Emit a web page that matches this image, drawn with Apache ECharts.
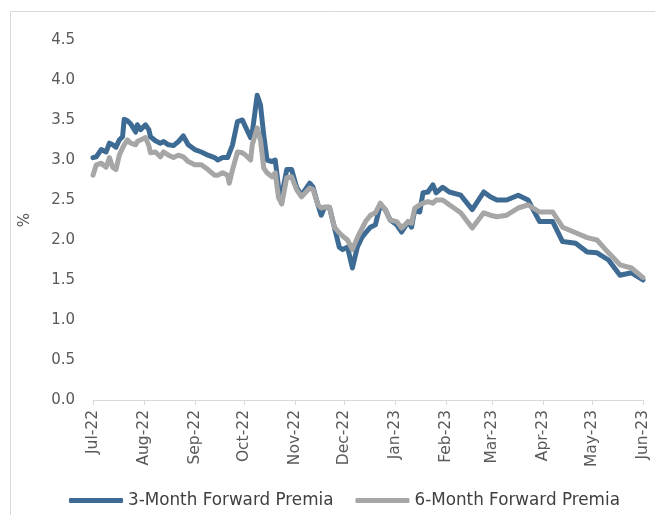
<!DOCTYPE html>
<html>
<head>
<meta charset="utf-8">
<script src="https://cdn.jsdelivr.net/npm/echarts@6/dist/echarts.min.js"></script>
<style>
html,body{margin:0;padding:0;background:#fff;}
#chart{width:655px;height:515px;}
</style>
</head>
<body>
<div id="chart"></div>
<script>
// Dates of observations
const obsDates = [
'2022-07-01','2022-07-03','2022-07-06','2022-07-09','2022-07-11','2022-07-13','2022-07-15','2022-07-17','2022-07-19','2022-07-20',
'2022-07-22','2022-07-24','2022-07-27','2022-07-28','2022-07-30','2022-08-02','2022-08-04','2022-08-05','2022-08-08','2022-08-11',
'2022-08-13','2022-08-16','2022-08-19','2022-08-22','2022-08-25','2022-08-28','2022-09-01','2022-09-05','2022-09-09','2022-09-13',
'2022-09-15','2022-09-18','2022-09-21','2022-09-22','2022-09-24','2022-09-27','2022-09-30','2022-10-02','2022-10-05','2022-10-06',
'2022-10-09','2022-10-11','2022-10-13','2022-10-15','2022-10-18','2022-10-20','2022-10-22','2022-10-24','2022-10-27','2022-10-30',
'2022-11-02','2022-11-05','2022-11-10','2022-11-12','2022-11-15','2022-11-17','2022-11-19','2022-11-22','2022-11-25','2022-11-28',
'2022-11-30','2022-12-03','2022-12-06','2022-12-09','2022-12-12','2022-12-14','2022-12-17','2022-12-20','2022-12-23','2022-12-26',
'2022-12-29','2023-01-02','2023-01-05','2023-01-09','2023-01-11','2023-01-13','2023-01-16','2023-01-18','2023-01-21','2023-01-24',
'2023-01-26','2023-01-30','2023-01-31','2023-02-03','2023-02-10','2023-02-17','2023-02-24','2023-02-28','2023-03-04','2023-03-10',
'2023-03-17','2023-03-23','2023-03-30','2023-04-07','2023-04-13','2023-04-21','2023-04-28','2023-05-04','2023-05-11','2023-05-18',
'2023-05-25','2023-06-01'
];
const premia3M = [
3.03,3.04,3.13,3.10,3.21,3.19,3.16,3.25,3.29,3.51,
3.49,3.45,3.35,3.44,3.38,3.44,3.38,3.29,3.24,3.21,
3.23,3.19,3.18,3.23,3.30,3.19,3.13,3.10,3.06,3.03,
3.00,3.03,3.03,3.05,3.19,3.48,3.50,3.41,3.28,3.34,
3.81,3.69,3.31,3.00,2.98,3.00,2.66,2.56,2.88,2.88,
2.66,2.56,2.71,2.66,2.44,2.31,2.41,2.41,2.16,1.91,
1.88,1.91,1.65,1.91,2.04,2.09,2.16,2.19,2.44,2.38,
2.25,2.19,2.10,2.23,2.16,2.38,2.35,2.59,2.60,2.69,
2.59,2.66,2.65,2.60,2.56,2.38,2.60,2.54,2.50,2.50,
2.56,2.50,2.23,2.23,1.98,1.96,1.85,1.84,1.75,1.56,
1.59,1.50
];
const premia6M = [
2.81,2.94,2.96,2.91,3.03,2.91,2.88,3.06,3.15,3.19,
3.25,3.21,3.19,3.23,3.25,3.28,3.18,3.09,3.10,3.04,
3.10,3.06,3.03,3.06,3.04,2.98,2.94,2.94,2.88,2.81,
2.81,2.84,2.81,2.71,2.88,3.10,3.09,3.06,3.00,3.19,
3.40,3.25,2.90,2.84,2.79,2.84,2.53,2.45,2.78,2.79,
2.63,2.54,2.65,2.63,2.44,2.40,2.41,2.41,2.16,2.09,
2.05,2.00,1.88,2.03,2.15,2.23,2.31,2.34,2.46,2.38,
2.25,2.23,2.15,2.23,2.21,2.40,2.44,2.46,2.48,2.46,
2.50,2.50,2.50,2.44,2.34,2.15,2.34,2.31,2.29,2.31,
2.40,2.44,2.35,2.35,2.16,2.09,2.03,2.00,1.84,1.69,
1.65,1.53
];
const monthLabels = ['Jul-22','Aug-22','Sep-22','Oct-22','Nov-22','Dec-22','Jan-23','Feb-23','Mar-23','Apr-23','May-23','Jun-23'];
const yTicks = [0,0.5,1,1.5,2,2.5,3,3.5,4,4.5];
const seriesNames = ['3-Month Forward Premia','6-Month Forward Premia'];

// daily category axis from first to last date
function fmt(d){return d.toISOString().slice(0,10);}
const days = [];
{
  const start = new Date(Date.UTC(2022,6,1)), end = new Date(Date.UTC(2023,5,1));
  for (let d = new Date(start); d <= end; d.setUTCDate(d.getUTCDate()+1)) days.push(fmt(d));
}
const monthStarts = days.filter(d => d.endsWith('-01'));
const labelOf = {};
monthStarts.forEach((d,i)=>{labelOf[d]=monthLabels[i];});
const isMonthStart = (idx, val) => val.endsWith('-01');

const chart = echarts.init(document.getElementById('chart'), null, {renderer:'canvas'});
const font = 'DejaVu Sans';
chart.setOption({
  animation:false,
  backgroundColor:'#ffffff',
  graphic:[{type:'rect', shape:{x:10.5,y:11.5,width:700,height:600}, style:{fill:'none',stroke:'#d9d9d9',lineWidth:1}, silent:true}],
  grid:{left:93, right:12, top:40, bottom:115},
  legend:{
    data:seriesNames, left:64, top:487, icon:'roundRect', itemWidth:54, itemHeight:5, itemGap:22,
    textStyle:{fontFamily:font, fontSize:16.8, color:'#404040'}
  },
  xAxis:{
    type:'category', data:days, boundaryGap:false,
    axisLine:{lineStyle:{color:'#d9d9d9', width:1}},
    axisTick:{interval:isMonthStart, length:5, lineStyle:{color:'#d9d9d9'}},
    axisLabel:{interval:isMonthStart, rotate:90, margin:10, formatter:v=>labelOf[v]||'', fontFamily:font, fontSize:15.5, color:'#595959', hideOverlap:false},
    splitLine:{show:false}
  },
  yAxis:{
    type:'value', min:yTicks[0], max:yTicks[yTicks.length-1], interval:0.5,
    name:'%', nameLocation:'middle', nameGap:60, nameRotate:90,
    nameTextStyle:{fontFamily:font, fontSize:15, color:'#595959'},
    axisLine:{show:false}, axisTick:{show:false}, splitLine:{show:false},
    axisLabel:{margin:18, formatter:v=>v.toFixed(1), fontFamily:font, fontSize:15, color:'#595959'}
  },
  series:[
    {name:seriesNames[0], type:'line', showSymbol:false, symbol:'none', color:'#3e6b93',
     lineStyle:{width:5, color:'#3e6b93', cap:'round', join:'round'},
     data:obsDates.map((d,i)=>[d,premia3M[i]])},
    {name:seriesNames[1], type:'line', showSymbol:false, symbol:'none', color:'#a6a6a6',
     lineStyle:{width:5, color:'#a6a6a6', cap:'round', join:'round'},
     data:obsDates.map((d,i)=>[d,premia6M[i]])}
  ]
});
</script>
</body>
</html>
